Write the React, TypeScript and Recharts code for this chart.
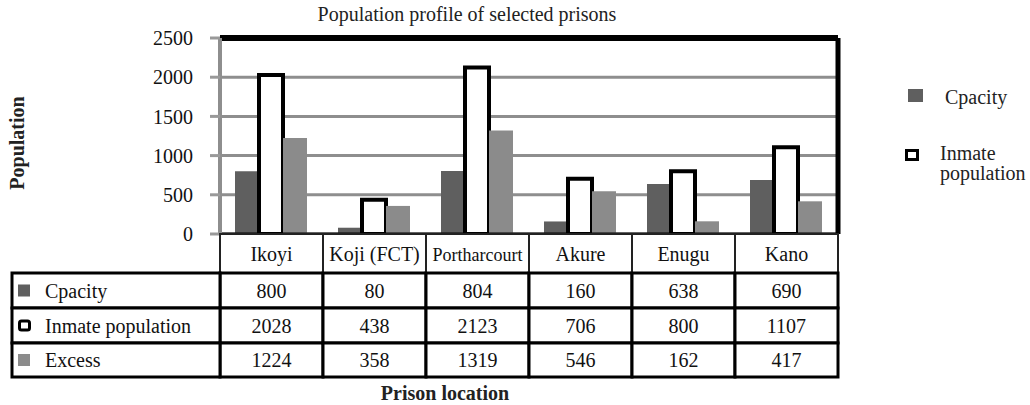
import { Bar, BarChart, CartesianGrid, ReferenceLine, XAxis, YAxis } from "recharts";

// values (the table under the chart gives them exactly)
const prisons = ["Ikoyi", "Koji (FCT)", "Portharcourt", "Akure", "Enugu", "Kano"];
const capacity = [800, 80, 804, 160, 638, 690];
const inmates = [2028, 438, 2123, 706, 800, 1107];
const excess = [1224, 358, 1319, 546, 162, 417];
const yTicks = [0, 500, 1000, 1500, 2000, 2500];

const seriesNames = ["Cpacity", "Inmate population", "Excess"];
const seriesValues = [capacity, inmates, excess];

const data = prisons.map((p, i) => ({
  prison: p,
  capacity: capacity[i],
  inmates: inmates[i],
  excess: excess[i],
}));

const FONT = '"Liberation Serif", "DejaVu Serif", serif';
const txt = { fontFamily: FONT };
const DARK = "#5f5f5f";
const MID = "#8b8b8b";
const GRID = "#8e8e8e";

// layout of the data table below the plot
const PLOT_LEFT = 220;
const PLOT_RIGHT = 838;
const BAND = (PLOT_RIGHT - PLOT_LEFT) / prisons.length;
const HEADER_H = 39;
const ROW_H = [35, 35, 34];
const LABEL_LEFT = 12;

function Swatch({ row, x, y }: { row: number; x: number; y: number }) {
  if (row === 1) {
    return (
      <rect x={x + 1.5} y={y + 1.5} width={10} height={9} rx={2} fill="#fff" stroke="#000" strokeWidth={3} />
    );
  }
  return <rect x={x} y={y} width={12} height={12} fill={row === 0 ? DARK : MID} />;
}

function TableTick(props: any) {
  const { x, y, payload } = props;
  const i = prisons.indexOf(payload.value);
  const left = x - BAND / 2;
  const out: any[] = [];

  out.push(
    <rect key="h" x={left} y={y} width={BAND} height={HEADER_H} fill="#fff" stroke="#222" strokeWidth={2} />,
    <text key="ht" x={x} y={y + HEADER_H / 2 + 7} textAnchor="middle" fontSize={payload.value.length > 10 ? 18 : 20} style={txt} fill="#111">
      {payload.value}
    </text>
  );

  let top = y + HEADER_H;
  seriesValues.forEach((vals, r) => {
    const h = ROW_H[r];
    out.push(
      <rect key={"c" + r} x={left} y={top} width={BAND} height={h} fill="#fff" stroke="#000" strokeWidth={3} />,
      <text key={"t" + r} x={x} y={top + h / 2 + 7} textAnchor="middle" fontSize={20} style={txt} fill="#111">
        {vals[i]}
      </text>
    );
    if (i === 0) {
      out.push(
        <rect key={"l" + r} x={LABEL_LEFT} y={top} width={left - LABEL_LEFT} height={h} fill="#fff" stroke="#000" strokeWidth={3} />,
        <g key={"s" + r}>
          <Swatch row={r} x={18} y={top + h / 2 - 6} />
        </g>,
        <text key={"lt" + r} x={45} y={top + h / 2 + 7} fontSize={20} style={txt} fill="#111">
          {seriesNames[r]}
        </text>
      );
    }
    top += h;
  });

  return <g>{out}</g>;
}

export default function App() {
  return (
    <div style={{ position: "absolute", left: 0, top: 0, width: 1030, height: 405, background: "#fff", fontFamily: FONT }}>
      <BarChart
        width={1030}
        height={405}
        data={data}
        margin={{ top: 38, right: 191, bottom: 28, left: 0 }}
        barCategoryGap={15}
        barGap={0}
      >
        <CartesianGrid horizontal vertical={false} stroke={GRID} strokeWidth={3} />
        <XAxis
          dataKey="prison"
          height={HEADER_H + ROW_H[0] + ROW_H[1] + ROW_H[2]}
          interval={0}
          tickSize={0}
          tickMargin={0}
          tickLine={false}
          axisLine={{ stroke: "#000", strokeWidth: 3 }}
          tick={<TableTick />}
        />
        <YAxis
          width={220}
          domain={[0, 2500]}
          ticks={yTicks}
          interval={0}
          tickSize={10}
          tickMargin={17}
          axisLine={{ stroke: GRID, strokeWidth: 4 }}
          tickLine={{ stroke: "#999", strokeWidth: 3 }}
          tick={{ fontSize: 20, fill: "#111", style: txt }}
        />
        <YAxis yAxisId="border" orientation="right" width={1} tick={false} tickLine={false} axisLine={{ stroke: "#000", strokeWidth: 5 }} />
        <ReferenceLine y={2500} stroke="#000" strokeWidth={6} />
        <Bar dataKey="capacity" name="Cpacity" fill={DARK} isAnimationActive={false} />
        <Bar dataKey="inmates" name="Inmate population" fill="#fff" stroke="#000" strokeWidth={4} isAnimationActive={false} />
        <Bar dataKey="excess" name="Excess" fill={MID} isAnimationActive={false} />
      </BarChart>

      <svg width={1030} height={405} style={{ position: "absolute", left: 0, top: 0, pointerEvents: "none" }}>
        <text x={467} y={21} textAnchor="middle" fontSize={20} style={txt} fill="#222">
          Population profile of selected prisons
        </text>
        <text
          x={24}
          y={143}
          transform="rotate(-90 24 143)"
          textAnchor="middle"
          fontSize={20}
          fontWeight="bold"
          style={txt}
          fill="#222"
        >
          Population
        </text>
        <text x={445} y={400} textAnchor="middle" fontSize={20} fontWeight="bold" style={txt} fill="#222">
          Prison location
        </text>

        <rect x={908} y={89} width={15} height={13} fill={DARK} />
        <text x={945} y={104} fontSize={20} style={txt} fill="#222">
          Cpacity
        </text>
        <rect x={906.5} y={150.5} width={11} height={9} fill="#fff" stroke="#000" strokeWidth={3} />
        <text x={940} y={160} fontSize={20} style={txt} fill="#222">
          Inmate
        </text>
        <text x={940} y={180} fontSize={20} style={txt} fill="#222">
          population
        </text>
      </svg>
    </div>
  );
}
